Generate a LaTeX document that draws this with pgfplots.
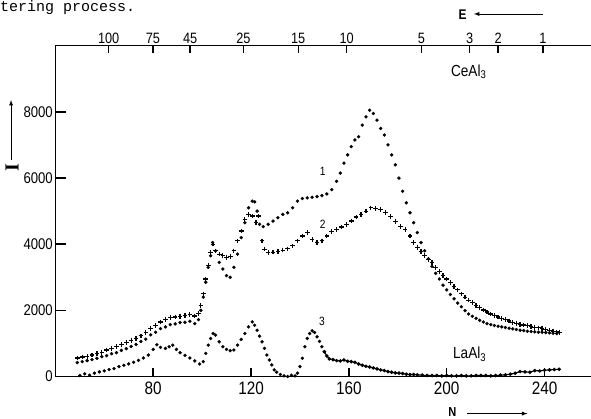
\documentclass[border=0pt]{standalone}
\usepackage{fontspec}
\setmainfont{Liberation Sans}
\newfontfamily\narrow[FakeStretch=0.85]{Liberation Sans}
\newfontfamily\mono{Liberation Mono}
\newfontfamily\serif{Liberation Serif}
\usepackage{pgfplots}
\pgfplotsset{compat=1.18}

\begin{document}
\begin{tikzpicture}
\pgfplotsset{
  base/.style={
    scale only axis, width=536pt, height=331pt,
    xmin=40, xmax=259, ymin=0, ymax=10000,
    axis line style={line width=1.4pt},
    /pgf/number format/assume math mode=true,
    /pgf/number format/1000 sep={},
    scaled ticks=false,
    clip=false,
  },
  myticks/.style={
    xtick align=inside, ytick align=inside,
    major tick length=#1,
    every tick/.style={draw=black, line width=1.4pt},
  },
}
% top scale: E
\begin{axis}[base,
  axis x line*=top, axis y line=none,
  myticks=7pt,
  xtick={61.8,79.9,95.1,116.9,139.3,159.1,189.7,209.4,221,239.3},
  xticklabels={100,75,45,25,15,10,5,3,2,1},
  xticklabel style={font=\narrow\fontsize{15}{15}\selectfont, yshift=-1pt},
  ytick=\empty,
]
\addplot[draw=none] coordinates {(50,0)};
% tick marks of the top scale
\pgfplotsinvokeforeach{61.8,79.9,95.1,116.9,139.3,159.1,189.7,209.4,221,239.3}{
  \draw[line width=1.4pt] (axis cs:#1,10000) -- (axis cs:#1,9790);
}
\end{axis}
% main axis
\begin{axis}[base,
  axis x line*=bottom, axis y line*=left,
  myticks=9pt,
  xtick={80,120,160,200,240},
  ytick={0,2000,4000,6000,8000},
  xticklabel style={font=\narrow\fontsize{18}{18}\selectfont, yshift=-2pt},
  yticklabel style={font=\narrow\fontsize{15.5}{15.5}\selectfont, xshift=1pt},
]
\pgfplotsinvokeforeach{80,120,160,200,240}{
  \draw[line width=1.4pt] (axis cs:#1,0) -- (axis cs:#1,270);
}
\pgfplotsinvokeforeach{2000,4000,6000,8000}{
  \draw[line width=1.4pt] (axis cs:40,#1) -- (axis cs:44.2,#1);
}
% curve 1, CeAl3 (dots)
\addplot[only marks, mark=*, mark size=1.5pt, black] coordinates {
(49,420) (51,450) (53,480) (55,510) (57,550) (59,600) (61,630) (63,690)
(65,720) (67,790) (69,840) (71,910) (73,970) (75,1060) (77,1130) (79,1260)
(81,1340) (83,1450) (85,1500) (87,1570) (89,1590) (91,1630) (93,1640) (95,1670)
(97,1600) (98.5,1720) (99.5,2000) (100.5,2400) (101.5,2850) (102.5,3300) (103.5,3650) (104.3,4050)
(105.5,3800) (107,3450) (108.5,3250) (110,3050) (111.5,3000) (113,3300) (114.5,3700) (116,4200)
(117.5,4650) (119,5100) (120.5,5300) (121.5,5280) (122.5,5000) (123.5,4600) (125,4530) (127,4600)
(129,4700) (131,4800) (133,4900) (135,4950) (137,5100) (139,5300) (141,5380) (143,5400)
(145,5420) (147,5440) (149,5470) (151,5520) (153,5650) (155,5900) (156.5,6150) (158,6450)
(159.5,6700) (161,6950) (162.5,7150) (164,7250) (165.5,7600) (167,7850) (168.5,8050) (170,7950)
(171.5,7750) (173,7500) (174.5,7300) (176,7000) (177.5,6700) (179,6400) (180.5,6000) (182,5600)
(183.5,5250) (185,4950) (186.5,4650) (188,4350) (189.5,4050) (191,3800) (192.5,3560) (194,3330)
(195.5,3120) (197,2950) (198.5,2760) (200,2620) (201.5,2480) (203,2350) (204.5,2220) (206,2110)
(207.5,1990) (209,1890) (210.5,1820) (212,1760) (213.5,1700) (215,1650) (216.5,1600) (218,1570)
(219.5,1540) (221,1520) (222.5,1500) (224,1480) (225.5,1460) (227,1440) (228.5,1420) (230,1400)
(231.5,1390) (233,1370) (234.5,1360) (236,1350) (237.5,1340) (239,1340) (240.5,1330) (242,1320)
(243.5,1310) (245,1300)
};
% curve 2, CeAl3 (crosses)
\addplot[only marks, mark=+, mark size=2.3pt, mark options={line width=1.2pt}, black] coordinates {
(49,560) (51,590) (53,610) (55,650) (57,700) (59,730) (61,800) (63,850)
(65,900) (67,960) (69,1030) (71,1080) (73,1150) (75,1230) (77,1330) (79,1450)
(81,1550) (83,1650) (85,1720) (87,1780) (89,1800) (91,1820) (93,1850) (95,1870)
(97,1830) (98.5,1900) (99.5,2150) (100.5,2500) (101.5,2950) (102.5,3350) (103.5,3750) (104.5,4000)
(105.5,3800) (107,3700) (108.5,3650) (110,3600) (111.5,3620) (113,3800) (114.5,4100) (116,4400)
(117.5,4750) (119,4900) (120.5,4850) (122,4650) (123,4850) (124.5,4100) (125.5,3850) (127,3740)
(129,3760) (131,3780) (133,3820) (135,3860) (137,3950) (139,4100) (141,4250) (143,4350)
(145,4150) (147,4050) (149,4100) (151,4250) (153,4380) (155,4450) (157,4520) (159,4600)
(161,4700) (163,4820) (165,4900) (167,5000) (169,5100) (171,5080) (173,5040) (175,4950)
(177,4830) (179,4680) (181,4530) (183,4450) (185,4250) (186.5,4050) (188,3900) (189.5,3780)
(191,3650) (192.5,3540) (194,3440) (195.5,3300) (197,3180) (198.5,3060) (200,2950) (201.5,2850)
(203,2730) (204.5,2620) (206,2500) (207.5,2400) (209,2310) (210.5,2230) (212,2150) (213.5,2080)
(215,2010) (216.5,1950) (218,1890) (219.5,1850) (221,1800) (222.5,1760) (224,1720) (225.5,1680)
(227,1640) (228.5,1610) (230,1580) (231.5,1560) (233,1540) (234.5,1510) (236,1490) (237.5,1470)
(239,1450) (240.5,1420) (242,1390) (243.5,1370) (245,1350) (246,1330)
};
% curve 3, LaAl3 (dots)
\addplot[only marks, mark=*, mark size=1.5pt, black] coordinates {
(50,30) (52,80) (54,40) (56,100) (58,140) (60,170) (62,210) (64,240)
(66,300) (68,340) (70,380) (72,430) (74,490) (76,560) (78,650) (80,820)
(81.5,960) (83,880) (85,850) (86.5,900) (88,950) (89.5,820) (91,720) (93,640)
(95,560) (97,470) (99,380) (100.5,450) (101.5,700) (102.5,950) (103.5,1150) (104.5,1300)
(105.5,1250) (107,1050) (108.5,900) (110,820) (111.5,780) (113,800) (114.5,950) (116,1120)
(117.5,1300) (119,1500) (120.5,1650) (121.5,1550) (122.5,1400) (123.5,1220) (124.5,1050) (125.5,850)
(126.5,650) (127.5,500) (128.5,350) (129.5,200) (130.5,130) (132,60) (133.5,20) (135,0)
(136.5,40) (138,20) (139,100) (140,300) (141,550) (142,900) (143,1150) (144,1300)
(145,1380) (146,1330) (147,1200) (148,1060) (149,900) (150,750)
};
\addplot[mark=*, mark size=1.2pt, line width=1.1pt, black] coordinates {
(150,750) (151,620) (152,530) (153.5,510) (155,480) (156.5,470) (158,500) (159.5,460)
(161,450) (162.5,430) (164,380) (165.5,340) (167,310) (168.5,290) (170,260) (171.5,230)
(173,200) (174.5,180) (176,150) (177.5,130) (179,110) (180.5,100) (182,90) (183.5,70)
(185,60) (186.5,60) (188,50) (190,40) (192,30) (194,30) (196,30) (198,20)
(200,30) (202,20) (204,20) (206,30) (208,20) (210,20) (212,30) (214,30)
(216,30) (218,20) (220,30) (222,40) (224,50) (226,70) (228,100) (230,150)
(232,140) (234,130) (236,180) (238,170) (240,190) (242,200) (244,210) (246,220)
};
% labels
\node[font=\narrow\fontsize{16}{16}\selectfont] at (axis cs:209,9210) {CeAl\textsubscript{3}};
\node[font=\narrow\fontsize{16}{16}\selectfont] at (axis cs:209.4,665) {LaAl\textsubscript{3}};
\node[font=\narrow\fontsize{12}{12}\selectfont] at (axis cs:149.3,6190) {1};
\node[font=\narrow\fontsize{12}{12}\selectfont] at (axis cs:149.3,4590) {2};
\node[font=\narrow\fontsize{12}{12}\selectfont] at (axis cs:149,1660) {3};
% axis names with arrows
\node[font=\narrow\bfseries\fontsize{14}{14}\selectfont] at (axis cs:206.5,10930) {E};
\draw[-latex, line width=0.9pt] (axis cs:239.2,10960) -- (axis cs:211.1,10960);
\node[font=\narrow\bfseries\fontsize{13}{13}\selectfont] at (axis cs:202.3,-1060) {N};
\draw[-latex, line width=0.9pt] (axis cs:208.5,-1120) -- (axis cs:233,-1120);
\node[font=\serif\bfseries\fontsize{20}{20}\selectfont, rotate=90] at (axis cs:22.3,6310) {I};
\draw[-latex, line width=0.9pt] (axis cs:21.9,6560) -- (axis cs:21.9,8360);
\node[font=\mono\fontsize{15}{15}\selectfont, anchor=base west, inner sep=0pt] at (axis cs:17.38,11030) {tering process.};
\coordinate (bbsw) at (axis cs:17.38,-1268);
\coordinate (bbne) at (axis cs:259,11382);
\end{axis}
\pgfresetboundingbox
\path[use as bounding box] (bbsw) rectangle (bbne);
\end{tikzpicture}
\end{document}
